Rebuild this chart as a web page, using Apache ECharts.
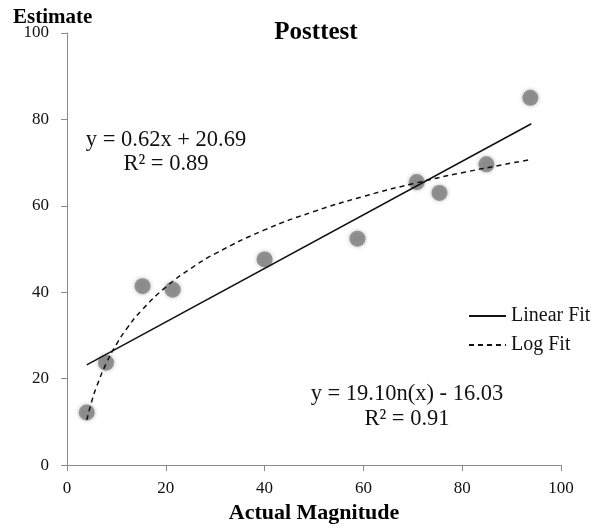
<!DOCTYPE html>
<html><head><meta charset="utf-8">
<script src="https://cdn.jsdelivr.net/npm/echarts@6/dist/echarts.min.js"></script>
<style>html,body{margin:0;padding:0;background:#fff}#c{width:603px;height:529px}</style>
</head><body><div id="c"></div>
<script>
// Observed data points (Actual Magnitude, Estimate)
const actual   = [4.0, 7.9, 15.3, 21.4, 40.0, 58.8, 70.8, 75.4, 84.9, 93.8];
const estimate = [12.2, 23.7, 41.4, 40.6, 47.6, 52.4, 65.5, 63.0, 69.6, 85.0];
// Linear fit line endpoints as drawn
const linX = [4, 94];
const linY = [23.2, 79.0];
// Log fit curve
const logX = [4, 5, 6, 8, 10, 12, 15, 20, 25, 30, 40, 50, 60, 70, 80, 94];
const logY = [10.45, 14.71, 18.19, 23.69, 27.95, 31.43, 35.69, 41.19, 45.45, 48.93, 54.43, 58.69, 62.17, 65.12, 67.67, 70.75];
const xTicks = [0, 20, 40, 60, 80, 100];
const yTicks = [0, 20, 40, 60, 80, 100];
const titleText = 'Posttest';
const xName = 'Actual Magnitude';
const yName = 'Estimate';
const linEq = ['y = 0.62x + 20.69', 'R² = 0.89'];
const logEq = ['y = 19.10n(x) - 16.03', 'R² = 0.91'];

const serif = '"Liberation Serif","Times New Roman",serif';
const chart = echarts.init(document.getElementById('c'));
const zip = (a, b) => a.map((v, i) => [v, b[i]]);
chart.setOption({
  animation: false,
  backgroundColor: '#fff',
  title: {text: titleText, left: 311, top: 15, textAlign: 'center',
    textStyle: {fontFamily: serif, fontWeight: 'bold', fontSize: 25, color: '#000'}},
  grid: {left: 67, right: 42, top: 33, bottom: 46},
  xAxis: {type: 'value', min: xTicks[0], max: xTicks[xTicks.length-1], interval: 20,
    name: xName, nameLocation: 'middle', nameGap: 23,
    nameTextStyle: {fontFamily: serif, fontWeight: 'bold', fontSize: 22, color: '#000'},
    axisLine: {show: true, lineStyle: {color: '#8a8a8a', width: 1}},
    axisTick: {show: true, length: 6, lineStyle: {color: '#8a8a8a'}},
    axisLabel: {fontFamily: serif, fontSize: 17, color: '#111', margin: 15},
    splitLine: {show: false}},
  yAxis: {type: 'value', min: yTicks[0], max: yTicks[yTicks.length-1], interval: 20,
    axisLine: {show: true, lineStyle: {color: '#8a8a8a', width: 1}},
    axisTick: {show: true, length: 6, lineStyle: {color: '#8a8a8a'}},
    axisLabel: {fontFamily: serif, fontSize: 17, color: '#111', margin: 18},
    splitLine: {show: false}},
  legend: {orient: 'vertical', left: 463, top: 301, itemGap: 9, itemWidth: 37, itemHeight: 14,
    data: ['Linear Fit', 'Log Fit'],
    itemStyle: {opacity: 0},
    textStyle: {fontFamily: serif, fontSize: 20, color: '#111'}},
  series: [
    {name: 'Data', type: 'scatter', data: zip(actual, estimate), symbolSize: 16,
      itemStyle: {color: '#808080', shadowBlur: 4, shadowColor: 'rgba(0,0,0,0.35)'}, z: 3},
    {name: 'Linear Fit', type: 'line', data: zip(linX, linY), symbol: 'none',
      lineStyle: {color: '#111', width: 1.5}, itemStyle: {color: '#111'}, z: 4},
    {name: 'Log Fit', type: 'line', data: zip(logX, logY), symbol: 'none', smooth: true,
      lineStyle: {color: '#111', width: 1.5, type: [5, 4]}, itemStyle: {color: '#111'}, z: 4}
  ],
  graphic: [
    {type: 'text', left: 13, top: 7, style: {text: yName, font: 'bold 21px ' + serif, fill: '#000'}},
    {type: 'text', x: 166, y: 140, style: {text: linEq[0], font: '22.5px ' + serif, fill: '#111', align: 'center', verticalAlign: 'middle'}},
    {type: 'text', x: 166, y: 164, style: {text: linEq[1], font: '22.5px ' + serif, fill: '#111', align: 'center', verticalAlign: 'middle'}},
    {type: 'text', x: 407, y: 394, style: {text: logEq[0], font: '22.5px ' + serif, fill: '#111', align: 'center', verticalAlign: 'middle'}},
    {type: 'text', x: 407, y: 419, style: {text: logEq[1], font: '22.5px ' + serif, fill: '#111', align: 'center', verticalAlign: 'middle'}}
  ]
});
</script></body></html>
